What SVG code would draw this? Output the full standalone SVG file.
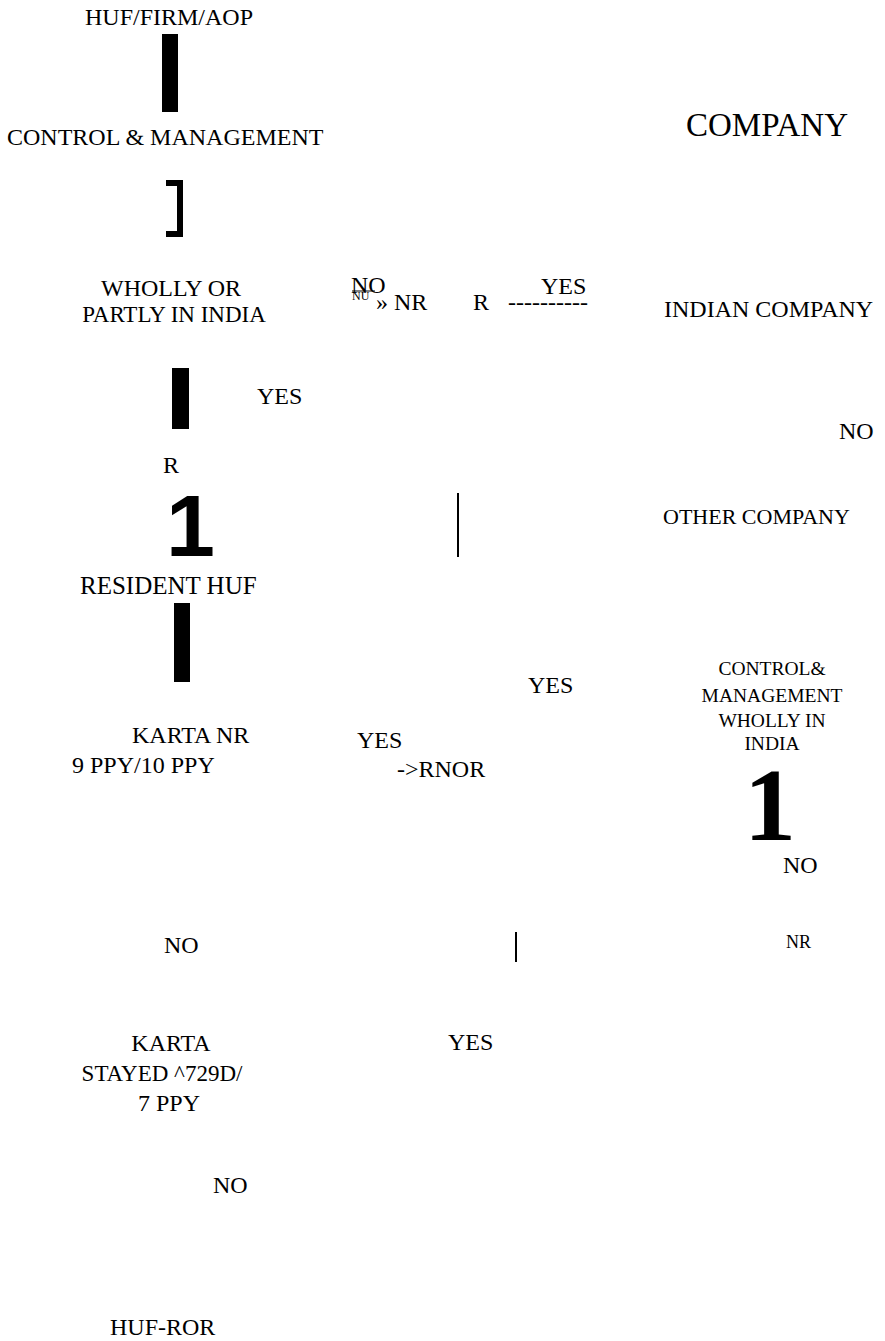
<svg xmlns="http://www.w3.org/2000/svg" width="885" height="1341" viewBox="0 0 885 1341">
<style>
.t{font-family:"Liberation Serif","Times New Roman",serif;font-size:24px;fill:#000}
.s{font-size:19.5px}
.bar{fill:#000}
.thin{stroke:#000;stroke-width:2;fill:none}
</style>
<rect width="885" height="1341" fill="#fff"/>
<g id="connectors">
<rect class="bar" x="162" y="34" width="16" height="78"/>
<path d="M166,183 H180 V234 H166" stroke="#000" stroke-width="6" fill="none"/>
<rect class="bar" x="172" y="368" width="17" height="61"/>
<text x="166" y="556" font-family="Liberation Sans, Arial, sans-serif" font-weight="bold" font-size="88">1</text>
<line class="thin" x1="458" y1="493" x2="458" y2="557"/>
<rect class="bar" x="174" y="603" width="16" height="79"/>
<line class="thin" x1="516" y1="932" x2="516" y2="962"/>
<text x="744" y="840" font-family="Liberation Serif, Times New Roman, serif" font-weight="bold" font-size="104">1</text>
<line x1="352" y1="291" x2="375" y2="291" stroke="#000" stroke-width="1"/>
</g>
<g id="n-huf"><text class="t" x="85" y="25">HUF/FIRM/AOP</text></g>
<g id="n-control"><text class="t" x="7" y="145">CONTROL &amp; MANAGEMENT</text></g>
<g id="n-company"><text class="t" x="686" y="136" style="font-size:33px">COMPANY</text></g>
<g id="n-wholly"><text class="t" x="171" y="296" text-anchor="middle">WHOLLY OR</text><text class="t" x="174" y="322" text-anchor="middle" style="font-size:23px">PARTLY IN INDIA</text></g>
<g id="l-no1"><text class="t" x="351" y="293">NO</text><text class="t" x="352" y="300" style="font-size:12px">NU</text></g>
<g id="n-nr1"><text class="t" x="376" y="310">» NR</text></g>
<g id="n-r1"><text class="t" x="473" y="310">R</text><text class="t" x="508" y="310">----------</text></g>
<g id="l-yes1"><text class="t" x="541" y="294">YES</text></g>
<g id="n-indian"><text class="t" x="664" y="317">INDIAN COMPANY</text></g>
<g id="l-yes2"><text class="t" x="257" y="404">YES</text></g>
<g id="l-no2"><text class="t" x="839" y="439">NO</text></g>
<g id="l-r2"><text class="t" x="163" y="473">R</text></g>
<g id="n-other"><text class="t" x="663" y="524" style="font-size:22px">OTHER COMPANY</text></g>
<g id="n-resident"><text class="t" x="80" y="594" style="font-size:25px">RESIDENT HUF</text></g>
<g id="l-yes3"><text class="t" x="528" y="693">YES</text></g>
<g id="n-cm"><text class="t s" x="772" y="675" text-anchor="middle">CONTROL&amp;</text><text class="t s" x="772" y="702" text-anchor="middle">MANAGEMENT</text><text class="t s" x="772" y="727" text-anchor="middle">WHOLLY IN</text><text class="t s" x="772" y="750" text-anchor="middle">INDIA</text></g>
<g id="n-karta-nr"><text class="t" x="132" y="743">KARTA NR</text><text class="t" x="72" y="773">9 PPY/10 PPY</text></g>
<g id="l-yes4"><text class="t" x="357" y="748">YES</text></g>
<g id="n-rnor"><text class="t" x="397" y="777">-&gt;RNOR</text></g>
<g id="l-no3"><text class="t" x="783" y="873">NO</text></g>
<g id="l-no4"><text class="t" x="164" y="953">NO</text></g>
<g id="n-nr2"><text class="t" x="786" y="948" style="font-size:18px">NR</text></g>
<g id="n-karta-stayed"><text class="t" x="171" y="1051" text-anchor="middle">KARTA</text><text class="t" x="162" y="1081" text-anchor="middle" style="font-size:23px">STAYED ^729D/</text><text class="t" x="169" y="1111" text-anchor="middle">7 PPY</text></g>
<g id="l-yes5"><text class="t" x="448" y="1050">YES</text></g>
<g id="l-no5"><text class="t" x="213" y="1193">NO</text></g>
<g id="n-hufror"><text class="t" x="110" y="1335">HUF-ROR</text></g>
</svg>
